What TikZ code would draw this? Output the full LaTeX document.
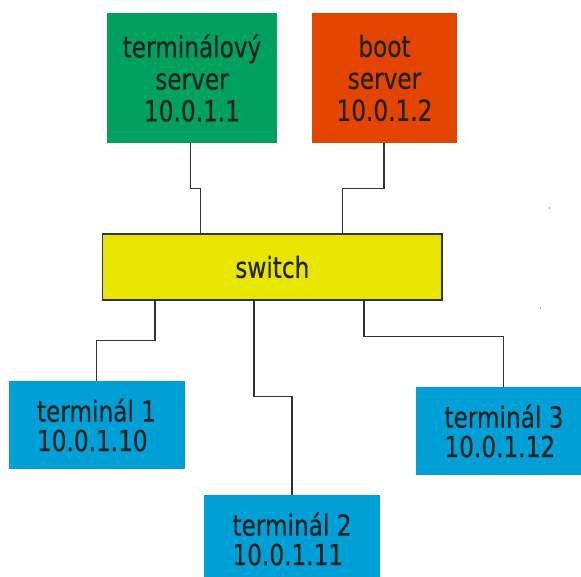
\documentclass[tikz,border=0pt]{standalone}
\usepackage{fontspec}
\newfontfamily\lab[FakeStretch=0.8,FakeBold=0.4]{DejaVu Sans}
\definecolor{cgreen}{HTML}{00A05F}
\definecolor{cred}{HTML}{E34400}
\definecolor{cyellow}{HTML}{E8E600}
\definecolor{cblue}{HTML}{00A0D6}
\definecolor{ctext}{HTML}{222222}
\definecolor{cline}{HTML}{333333}
\tikzset{
  box/.style={rectangle, inner sep=0pt, outer sep=0pt, text=ctext,
    font=\lab\fontsize{29}{32}\selectfont},
  srv/.style={box, align=center},
  term/.style={box, align=left, fill=cblue, minimum width=176pt, minimum height=88pt,
    font=\lab\fontsize{29}{29.5}\selectfont},
  link/.style={draw=cline, line width=1.3pt}
}
\begin{document}
\begin{tikzpicture}[x=1pt, y=-1pt]
\useasboundingbox (0,0) rectangle (581,577);
\clip (0,0) rectangle (581,577);
\node[srv, fill=cgreen, minimum width=170pt, minimum height=130pt] (green) at (192,78) {terminálový\\server\\10.0.1.1};
\node[srv, fill=cred, minimum width=145pt, minimum height=130pt] (red) at (384.5,78) {boot\\server\\10.0.1.2};
\node[box, fill=cyellow, draw=cline, line width=1.5pt, minimum width=339.3pt, minimum height=66pt] (switch) at (272.35,267) {switch};
\node[term] (t1) at (96.5,425) {terminál 1\\10.0.1.10};
\node[term] (t2) at (292,539) {terminál 2\\10.0.1.11};
\node[term] (t3) at (504,431) {terminál 3\\10.0.1.12};
\draw[link] ([xshift=-1.3pt]green.south) -- ++(0,45.6) -| ([xshift=-71.65pt]switch.north);
\draw[link] ([xshift=-0.5pt]red.south) -- ++(0,45.3) -| ([xshift=70pt]switch.north);
\draw[link] ([xshift=-117.5pt]switch.south) -- ++(0,40.3) -| (t1.north);
\draw[link] ([xshift=-18.3pt]switch.south) -- ++(0,96.3) -| (t2.north);
\draw[link] ([xshift=91.7pt]switch.south) -- ++(0,36.3) -| ([xshift=-0.3pt]t3.north);
\fill[gray!70] (548.5,207.5) rectangle (550,209);
\fill[gray!70] (539.5,307.5) rectangle (541,309);
\end{tikzpicture}
\end{document}
